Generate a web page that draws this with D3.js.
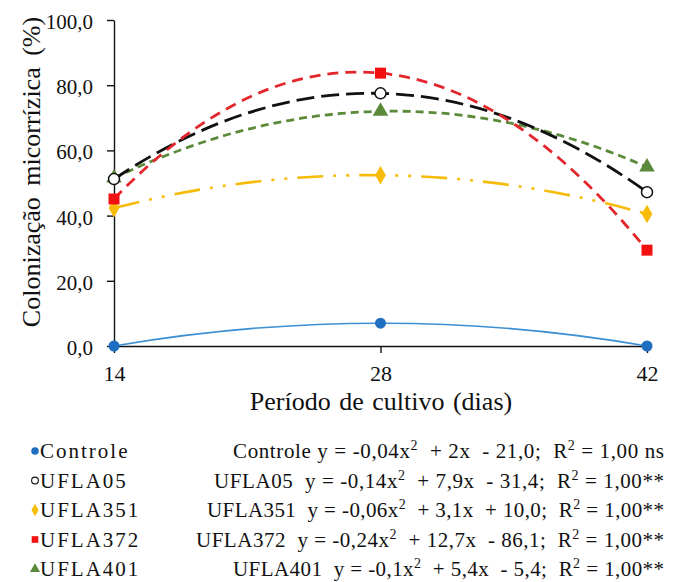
<!DOCTYPE html>
<html>
<head>
<meta charset="utf-8">
<script src="https://cdn.jsdelivr.net/npm/d3@7"></script>
</head>
<body style="margin:0;background:#fff">
<svg id="svg" width="676" height="582"></svg>
<script>
const DAYS = [14, 28, 42];
const Y_TICKS = [0, 20, 40, 60, 80, 100];

const NAMES = ["Controle", "UFLA05", "UFLA351", "UFLA372", "UFLA401"];
const CONTROLE = [0.0, 7.0, 0.0];
const UFLA05 = [51.2, 77.5, 47.2];
const UFLA351 = [42.3, 52.4, 40.5];
const UFLA372 = [45.1, 83.7, 29.4];
const UFLA401 = [51.5, 72.0, 54.9];

const EQUATIONS = [
  ["Controle y = -0,04x", "2", "  + 2x  - 21,0;  R", "2", " = 1,00 ns"],
  ["UFLA05  y = -0,14x", "2", "  + 7,9x  - 31,4;  R", "2", " = 1,00**"],
  ["UFLA351  y = -0,06x", "2", "  + 3,1x  + 10,0;  R", "2", " = 1,00**"],
  ["UFLA372  y = -0,24x", "2", "  + 12,7x  - 86,1;  R", "2", " = 1,00**"],
  ["UFLA401  y = -0,1x", "2", "  + 5,4x  - 5,4;  R", "2", " = 1,00**"],
];

const FONT = "Liberation Serif";
const INK = "#111";
// left edge of each equation line in the legend (right edge is fixed)
const EQ_LEFT = [233, 214, 207, 196, 233];
const EQ_RIGHT = 664;

const STYLES = [
  { color: "#3b8fd2", marker: "#1f6fc0", dash: null, width: 1.6, symbol: d3.symbolCircle, size: 95 },
  { color: "#111111", marker: "#ffffff", dash: "18,7", width: 2.8, symbol: d3.symbolCircle, size: 95 },
  { color: "#f7bb0a", marker: "#f7bb0a", dash: "26,10,3,10,3,10", width: 2.6, symbol: d3.symbolDiamond, size: 100 },
  { color: "#e3262b", marker: "#f21010", dash: "11,7", width: 2.8, symbol: d3.symbolSquare, size: 121 },
  { color: "#5b8a3a", marker: "#5b8a3a", dash: "8,5", width: 2.8, symbol: d3.symbolTriangle, size: 105 },
];

const SERIES = [CONTROLE, UFLA05, UFLA351, UFLA372, UFLA401];

// order-2 trend line through the three points, drawn as one quadratic bezier
function curveTrend(context) {
  let pts = [];
  return {
    areaStart() {}, areaEnd() {},
    lineStart() { pts = []; },
    point(px, py) { pts.push([px, py]); },
    lineEnd() {
      const [p0, p1, p2] = pts;
      const d01 = (p1[1] - p0[1]) / (p1[0] - p0[0]);
      const d12 = (p2[1] - p1[1]) / (p2[0] - p1[0]);
      const a = (d12 - d01) / (p2[0] - p0[0]);
      const s0 = d01 - a * (p1[0] - p0[0]);
      const xc = (p0[0] + p2[0]) / 2;
      context.moveTo(p0[0], p0[1]);
      context.quadraticCurveTo(xc, p0[1] + s0 * (xc - p0[0]), p2[0], p2[1]);
    },
  };
}

const svg = d3.select("#svg").attr("font-family", FONT);
const margin = { left: 114, right: 29, top: 20, bottom: 236 };
const W = 676, H = 582;

const x = d3.scaleLinear().domain([14, 42]).range([margin.left, W - margin.right]);
const y = d3.scaleLinear().domain([0, 100]).range([H - margin.bottom, margin.top]);

// Axes
const yAxis = svg.append("g")
  .attr("transform", `translate(${margin.left},0)`)
  .call(d3.axisLeft(y).tickValues(Y_TICKS).tickSize(7).tickSizeOuter(0)
    .tickFormat((d) => d3.format(".1f")(d).replace(".", ",")));
yAxis.attr("font-family", FONT).attr("font-size", null);
yAxis.selectAll("text").attr("font-size", 21).attr("x", -21).attr("dy", "0.4em")
  .attr("font-family", FONT).attr("fill", INK);

const xAxis = svg.append("g")
  .attr("transform", `translate(0,${y(0)})`)
  .call(d3.axisBottom(x).tickValues(DAYS).tickSize(7).tickSizeOuter(0));
xAxis.attr("font-family", FONT).attr("font-size", null);
xAxis.selectAll("text").attr("font-size", 22).attr("y", 35).attr("dy", 0)
  .attr("font-family", FONT).attr("fill", INK);

svg.selectAll(".domain, .tick line").attr("stroke", INK).attr("stroke-width", 1.4);

// Axis titles
svg.append("text")
  .attr("x", 381).attr("y", 410)
  .attr("text-anchor", "middle").attr("font-size", 26)
  .attr("font-family", FONT).attr("fill", INK)
  .attr("word-spacing", 2)
  .text("Período de cultivo (dias)");

svg.append("text")
  .attr("transform", `translate(40,172) rotate(-90)`)
  .attr("text-anchor", "middle").attr("font-size", 26)
  .attr("font-family", FONT).attr("fill", INK)
  .attr("word-spacing", 5)
  .text("Colonização micorrízica (%)");

// Lines
const line = d3.line()
  .curve(curveTrend)
  .x((d, i) => x(DAYS[i]))
  .y((d) => y(d));

const drawOrder = [0, 2, 4, 1, 3];
drawOrder.forEach((k) => {
  const s = STYLES[k];
  svg.append("path")
    .datum(SERIES[k])
    .attr("d", line)
    .attr("fill", "none")
    .attr("stroke", s.color)
    .attr("stroke-width", s.width)
    .attr("stroke-dasharray", s.dash);
});

drawOrder.forEach((k) => {
  const s = STYLES[k];
  svg.append("g").selectAll("path")
    .data(SERIES[k])
    .enter()
    .append("path")
    .attr("d", d3.symbol().type(s.symbol).size(s.size))
    .attr("transform", (d, i) => `translate(${x(DAYS[i])},${y(d)})`)
    .attr("fill", s.marker)
    .attr("stroke", k === 1 ? INK : "none")
    .attr("stroke-width", 1.5);
});

// Legend
NAMES.forEach((name, k) => {
  const s = STYLES[k];
  const base = 458 + k * 29.5;
  svg.append("path")
    .attr("d", d3.symbol().type(s.symbol).size(k === 1 ? 36 : 44))
    .attr("transform", `translate(35,${base - 7})`)
    .attr("fill", s.marker)
    .attr("stroke", k === 1 ? INK : "none")
    .attr("stroke-width", 1.1);
  svg.append("text")
    .attr("x", 40).attr("y", base)
    .attr("font-size", 21).attr("letter-spacing", 2)
    .attr("font-family", FONT).attr("fill", INK)
    .text(name);

  const t = svg.append("text")
    .attr("x", EQ_RIGHT).attr("y", base)
    .attr("text-anchor", "end").attr("font-size", 21)
    .attr("font-family", FONT).attr("fill", INK)
    .attr("textLength", EQ_RIGHT - EQ_LEFT[k]).attr("lengthAdjust", "spacing")
    .style("white-space", "pre");
  EQUATIONS[k].forEach((part, j) => {
    const sup = j === 1 || j === 3;
    t.append("tspan")
      .attr("font-size", sup ? 14 : 21)
      .attr("dy", sup ? -8 : (j === 0 ? 0 : 8))
      .text(part);
  });
});
</script>
</body>
</html>
